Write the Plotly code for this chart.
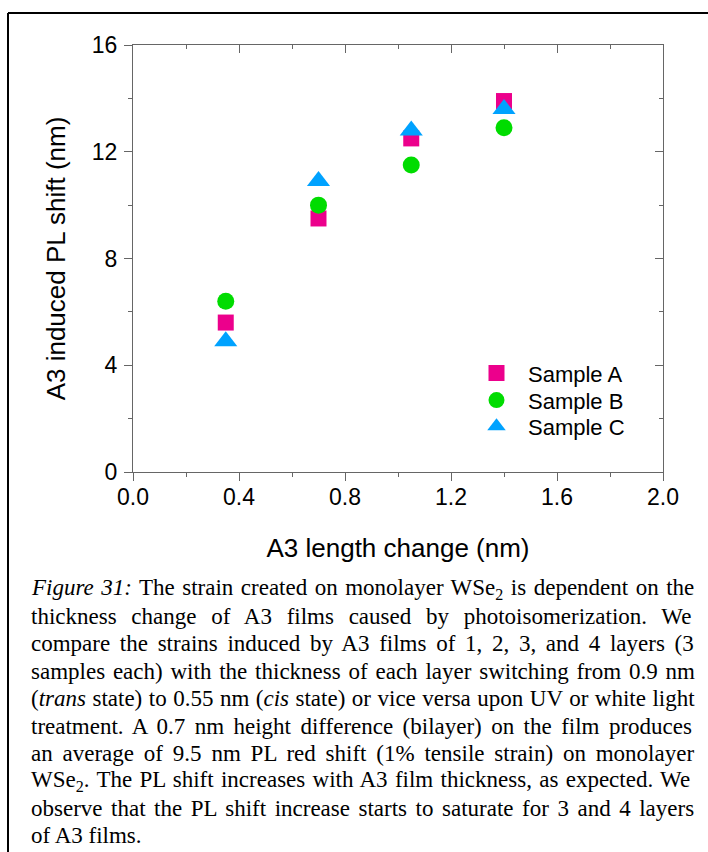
import plotly.graph_objects as go

# ---------------- data ----------------
length_change = [0.35, 0.70, 1.05, 1.40]
sample_a = [5.6, 9.5, 12.5, 13.9]
sample_b = [6.4, 10.0, 11.5, 12.9]
sample_c = [4.9, 10.9, 12.8, 13.6]
series_names = ["Sample A", "Sample B", "Sample C"]
x_ticks = [0.0, 0.4, 0.8, 1.2, 1.6, 2.0]
y_ticks = [0, 4, 8, 12, 16]

W, H = 708, 852
ML, MR, MT, MB = 133, 45, 45, 380
PW, PH = W - ML - MR, H - MT - MB


def px(xp):
    return (xp - ML) / PW


def py(yp):
    return (H - MB - yp) / PH


AX = "#666666"
SANS = "Liberation Sans, Arial, sans-serif"
SERIF = "Liberation Serif, Times New Roman, serif"

fig = go.Figure()
styles = [
    dict(symbol="square", size=16, color="#EC008C"),
    dict(symbol="circle", size=17, color="#00DC00"),
    dict(symbol="triangle-up", size=20, color="#00A2FF"),
]
for i, (name, vals) in enumerate(zip(series_names, [sample_a, sample_b, sample_c])):
    fig.add_trace(go.Scatter(
        x=length_change, y=vals, mode="markers", name=name,
        marker=dict(symbol=styles[i]["symbol"], size=styles[i]["size"],
                    color=styles[i]["color"], line=dict(width=0)),
        legend="legend" if i == 0 else f"legend{i+1}",
    ))

# dummy trace for the mirrored (inside-tick) axes
fig.add_trace(go.Scatter(x=[], y=[], xaxis="x2", yaxis="y2", showlegend=False,
                         hoverinfo="skip"))

axis_common = dict(showgrid=False, zeroline=False, showline=True, linecolor=AX,
                   linewidth=1, tickcolor=AX, tickwidth=1)

fig.update_layout(
    width=W, height=H,
    margin=dict(l=ML, r=MR, t=MT, b=MB, pad=0),
    paper_bgcolor="white", plot_bgcolor="white",
    font=dict(family=SANS, color="black"),
    xaxis=dict(range=[0, 2], tickmode="array", tickvals=x_ticks,
               ticktext=[f"{v:.1f}" for v in x_ticks],
               ticks="outside", ticklen=8, ticklabelstandoff=-4,
               minor=dict(dtick=0.2, tick0=0, ticks="outside", ticklen=4, tickcolor=AX),
               tickfont=dict(size=23, family=SANS, color="black"),
               title=dict(text="A3 length change (nm)", font=dict(size=26, family=SANS),
                          standoff=30),
               **axis_common),
    yaxis=dict(range=[0, 16], tickmode="array", tickvals=y_ticks,
               ticktext=[str(v) for v in y_ticks],
               ticks="outside", ticklen=8, ticklabelstandoff=2,
               minor=dict(dtick=2, tick0=0, ticks="outside", ticklen=4, tickcolor=AX),
               tickfont=dict(size=23, family=SANS, color="black"),
               title=dict(text="A3 induced PL shift (nm)", font=dict(size=26, family=SANS),
                          standoff=18),
               **axis_common),
    xaxis2=dict(range=[0, 2], overlaying="x", side="top", anchor="y",
                tickvals=x_ticks, showticklabels=False, ticks="inside", ticklen=8,
                minor=dict(dtick=0.2, tick0=0, ticks="inside", ticklen=4, tickcolor=AX),
                **axis_common),
    yaxis2=dict(range=[0, 16], overlaying="y", side="right", anchor="x",
                tickvals=y_ticks, showticklabels=False, ticks="inside", ticklen=8,
                minor=dict(dtick=2, tick0=0, ticks="inside", ticklen=4, tickcolor=AX),
                **axis_common),
    showlegend=True,
)

leg_rows = [373.3, 400.3, 426.5]
for i, yrow in enumerate(leg_rows):
    key = "legend" if i == 0 else f"legend{i+1}"
    fig.update_layout(**{key: dict(
        x=px(465), y=py(yrow), xanchor="left", yanchor="middle",
        bgcolor="rgba(0,0,0,0)", borderwidth=0, itemwidth=53,
        font=dict(size=22, family=SANS, color="black"),
        itemclick=False, itemdoubleclick=False)})

# frame lines
fig.add_shape(type="line", xref="paper", yref="paper", x0=px(8), x1=px(708),
              y0=py(13), y1=py(13), line=dict(color="black", width=2))
fig.add_shape(type="line", xref="paper", yref="paper", x0=px(8), x1=px(8),
              y0=py(13), y1=py(852), line=dict(color="black", width=2))

# ---------------- caption (justified) ----------------
TR = dict(zip("abcdefghijklmnopqrstuvwxyz",
              [444, 500, 444, 500, 444, 333, 500, 500, 278, 278, 500, 278, 778, 500, 500,
               500, 500, 333, 389, 278, 500, 500, 722, 500, 500, 444]))
TR.update(dict(zip("ABCDEFGHIJKLMNOPQRSTUVWXYZ",
                   [722, 667, 667, 722, 611, 556, 722, 722, 333, 389, 722, 611, 889, 722,
                    722, 556, 722, 667, 556, 611, 722, 722, 944, 722, 722, 611])))
TR.update({d: 500 for d in "0123456789"})
TR.update({" ": 250, ".": 250, ",": 250, ":": 278, ";": 278, "(": 333, ")": 333,
           "%": 833, "-": 333})
TI = dict(TR)
TI.update(dict(zip("abcdefghijklmnopqrstuvwxyz",
                   [500, 500, 444, 500, 444, 278, 500, 500, 278, 278, 444, 278, 722, 500,
                    500, 500, 500, 389, 389, 278, 500, 444, 667, 444, 444, 389])))
TI.update({"F": 611, ":": 333})

caption = [
    [("Figure 31:", "i"), (" The strain created on monolayer WSe", "r"), ("2", "s"),
     (" is dependent on the", "r")],
    [("thickness change of A3 films caused by photoisomerization. We", "r")],
    [("compare the strains induced by A3 films of 1, 2, 3, and 4 layers (3", "r")],
    [("samples each) with the thickness of each layer switching from 0.9 nm", "r")],
    [("(", "r"), ("trans", "i"), (" state) to 0.55 nm (", "r"), ("cis", "i"),
     (" state) or vice versa upon UV or white light", "r")],
    [("treatment. A 0.7 nm height difference (bilayer) on the film produces", "r")],
    [("an average of 9.5 nm PL red shift (1% tensile strain) on monolayer", "r")],
    [("WSe", "r"), ("2", "s"), (". The PL shift increases with A3 film thickness, as expected. We", "r")],
    [("observe that the PL shift increase starts to saturate for 3 and 4 layers", "r")],
    [("of A3 films.", "r")],
]
CAP_SIZE = 23
CAP_LEFT, CAP_RIGHT = 29, 693
base0, lstep = 596, 27.4
for li, segs in enumerate(caption):
    width = 0.0
    nspace = 0
    html = ""
    for txt, st in segs:
        if st == "i":
            width += sum(TI.get(c, 500) for c in txt) * CAP_SIZE / 1000
            html += f"<i>{txt}</i>"
        elif st == "s":
            width += sum(TR.get(c, 500) for c in txt) * CAP_SIZE * 0.7 / 1000
            html += f"<sub>{txt}</sub>"
        else:
            width += sum(TR.get(c, 500) for c in txt) * CAP_SIZE / 1000
            html += txt
        nspace += txt.count(" ")
    if li < len(caption) - 1 and nspace:
        ws = (CAP_RIGHT - CAP_LEFT - width) / nspace
    else:
        ws = 0
    html = f"<span style='word-spacing:{ws:.2f}px'>{html}</span>"
    fig.add_annotation(xref="paper", yref="paper", x=px(CAP_LEFT),
                       y=py(base0 + li * lstep - 7), xanchor="left", yanchor="middle",
                       text=html, showarrow=False, align="left",
                       font=dict(family=SERIF, size=CAP_SIZE, color="black"))

fig.write_html("out.html")
